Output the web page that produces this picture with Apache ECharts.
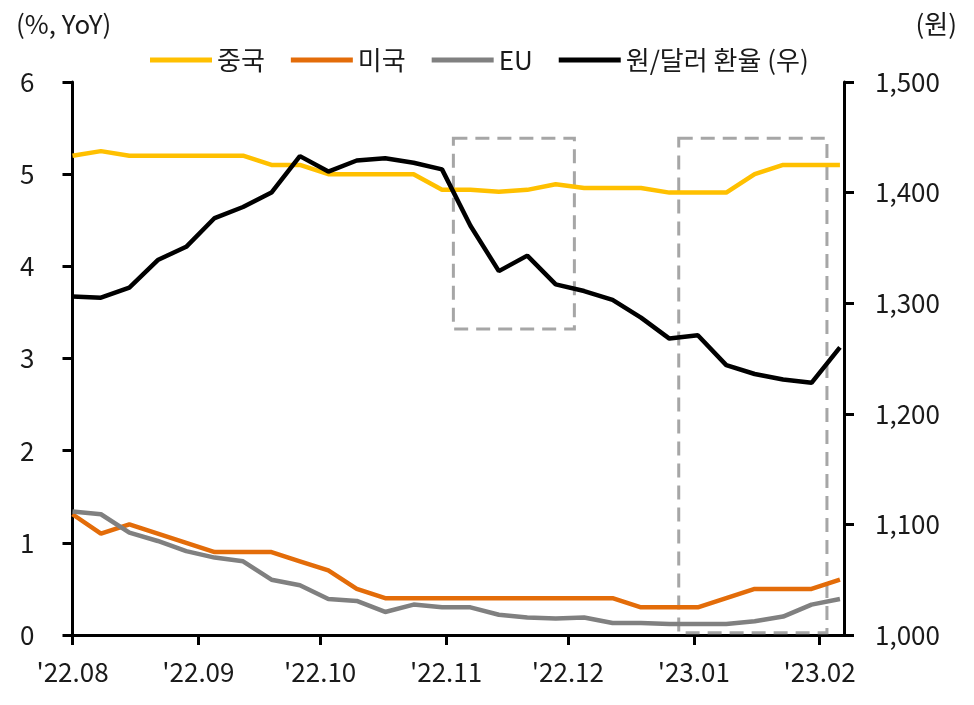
<!DOCTYPE html>
<html>
<head>
<meta charset="utf-8">
<script src="https://cdn.jsdelivr.net/npm/echarts@6/dist/echarts.min.js"></script>
<style>
html,body{margin:0;padding:0;background:#fff;}
#chart{width:974px;height:705px;}
</style>
</head>
<body>
<div id="chart"></div>
<script>
// weekly observation dates
const dates = [
  '2022-08-01','2022-08-08','2022-08-15','2022-08-22','2022-08-29',
  '2022-09-05','2022-09-12','2022-09-19','2022-09-26',
  '2022-10-03','2022-10-10','2022-10-17','2022-10-24','2022-10-31',
  '2022-11-07','2022-11-14','2022-11-21','2022-11-28',
  '2022-12-05','2022-12-12','2022-12-19','2022-12-26',
  '2023-01-02','2023-01-09','2023-01-16','2023-01-23','2023-01-30',
  '2023-02-06'
];
const china = [5.2,5.25,5.2,5.2,5.2,5.2,5.2,5.1,5.1,5.0,5.0,5.0,5.0,4.83,4.83,4.81,4.83,4.89,4.85,4.85,4.85,4.8,4.8,4.8,5.0,5.1,5.1,5.1];
const us = [1.31,1.1,1.2,1.1,1.0,0.9,0.9,0.9,0.8,0.7,0.5,0.4,0.4,0.4,0.4,0.4,0.4,0.4,0.4,0.4,0.3,0.3,0.3,0.4,0.5,0.5,0.5,0.6];
const eu = [1.34,1.31,1.11,1.02,0.91,0.84,0.80,0.60,0.54,0.39,0.37,0.25,0.33,0.30,0.30,0.22,0.19,0.18,0.19,0.13,0.13,0.12,0.12,0.12,0.15,0.20,0.33,0.39];
const krwusd = [1306,1305,1314,1339,1351,1377,1387,1400,1433,1419,1429,1431,1427,1421,1370,1329,1343,1317,1311,1303,1287,1268,1271,1244,1236,1231,1228,1260];

const seriesNames = ['중국','미국','EU','원/달러 환율 (우)'];
const tickDates = ['2022-08-01','2022-09-01','2022-10-01','2022-11-01','2022-12-01','2023-01-01','2023-02-01'];
const tickLabels = ["'22.08","'22.09","'22.10","'22.11","'22.12","'23.01","'23.02"];
const axisStartDate = '2022-08-01';
const axisEndDate = '2023-02-08';
// annotation boxes, in days since start and left-axis units
const boxFromDay = [93.8, 149.3];
const boxToDay = [123.6, 185.8];
const boxLow = [3.32, 0.025];
const boxHigh = [5.39, 5.39];

const DAY = 86400000;
const t0 = Date.parse(axisStartDate + 'T00:00:00Z');
const toDay = d => (Date.parse(d + 'T00:00:00Z') - t0) / DAY;
const xs = dates.map(toDay);
const tickDays = tickDates.map(toDay);
const labelMap = {};
tickDays.forEach((d, i) => labelMap[d] = tickLabels[i]);
const pair = arr => arr.map((v, i) => [xs[i], v]);

const FONT = '"Noto Sans CJK KR", "Noto Sans", sans-serif';
const TXT = '#1a1a1a';
const FS = 26;

const chart = echarts.init(document.getElementById('chart'), null, {renderer: 'canvas'});
const axisLine = {show: true, lineStyle: {color: '#000', width: 3}};
const axisTick = {show: true, inside: false, length: 10, lineStyle: {color: '#000', width: 3}};

chart.setOption({
  animation: false,
  backgroundColor: '#fff',
  textStyle: {fontFamily: FONT, color: TXT},
  title: [
    {text: '(%, YoY)', left: 11, top: 6, textStyle: {fontFamily: FONT, fontSize: FS, fontWeight: 'normal', color: TXT}},
    {text: '(원)', right: 12, top: 6, textStyle: {fontFamily: FONT, fontSize: FS, fontWeight: 'normal', color: TXT}}
  ],
  legend: {
    left: 145, top: 42, itemWidth: 62, itemHeight: 5, itemGap: 26, icon: 'rect',
    textStyle: {fontFamily: FONT, fontSize: FS, color: TXT},
    data: seriesNames
  },
  grid: {left: 72.5, right: 130, top: 82, bottom: 70},
  xAxis: {
    type: 'value', min: 0, max: toDay(axisEndDate) - 1,
    axisLine: axisLine,
    axisTick: Object.assign({}, axisTick, {customValues: tickDays}),
    axisLabel: {customValues: tickDays, margin: 24, fontFamily: FONT, fontSize: FS, color: TXT,
      formatter: v => labelMap[v] || ''},
    splitLine: {show: false}
  },
  yAxis: [
    {type: 'value', min: 0, max: 6, interval: 1, position: 'left',
      axisLine: axisLine, axisTick: axisTick, splitLine: {show: false},
      axisLabel: {margin: 38, fontFamily: FONT, fontSize: FS, color: TXT}},
    {type: 'value', min: 1000, max: 1500, interval: 100, position: 'right',
      axisLine: axisLine, axisTick: axisTick, splitLine: {show: false},
      axisLabel: {margin: 31, fontFamily: FONT, fontSize: FS, color: TXT,
        formatter: v => v.toLocaleString('en-US')}}
  ],
  series: [
    {name: seriesNames[0], type: 'line', yAxisIndex: 0, data: pair(china), symbol: 'none',
      lineStyle: {color: '#FFC000', width: 4.5}, itemStyle: {color: '#FFC000'}, z: 3,
      markArea: {silent: true,
        itemStyle: {color: 'rgba(0,0,0,0)', borderColor: '#A6A6A6', borderWidth: 3, borderType: [14, 8]},
        data: boxFromDay.map((f, i) => [{coord: [f, boxHigh[i]]}, {coord: [boxToDay[i], boxLow[i]]}])}},
    {name: seriesNames[1], type: 'line', yAxisIndex: 0, data: pair(us), symbol: 'none',
      lineStyle: {color: '#E36C09', width: 4.5}, itemStyle: {color: '#E36C09'}, z: 4},
    {name: seriesNames[2], type: 'line', yAxisIndex: 0, data: pair(eu), symbol: 'none',
      lineStyle: {color: '#808080', width: 4.5}, itemStyle: {color: '#808080'}, z: 5},
    {name: seriesNames[3], type: 'line', yAxisIndex: 1, data: pair(krwusd), symbol: 'none',
      lineStyle: {color: '#000000', width: 4.5}, itemStyle: {color: '#000000'}, z: 6}
  ]
});
</script>
</body>
</html>
